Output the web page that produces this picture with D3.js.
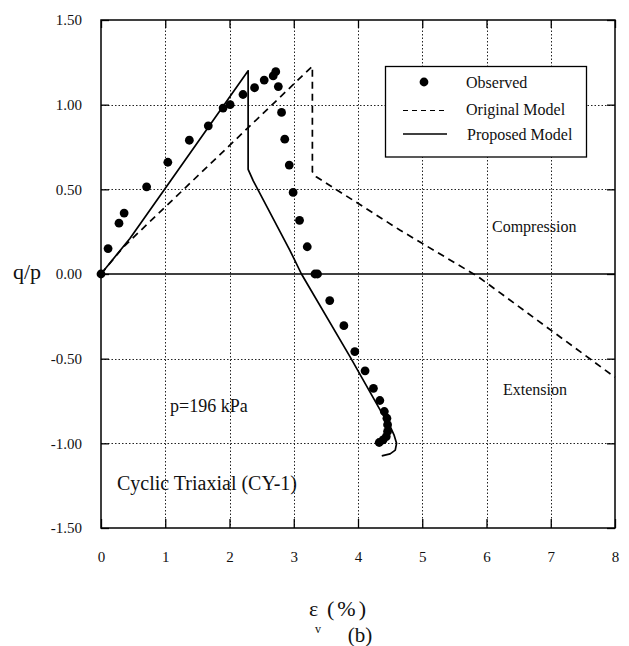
<!DOCTYPE html>
<html>
<head>
<meta charset="utf-8">
<script src="https://cdn.jsdelivr.net/npm/d3@7/dist/d3.min.js"></script>
<style>
  html, body { margin: 0; padding: 0; background: #fff; }
  svg { display: block; font-family: "Liberation Serif", "Times New Roman", serif; }
  svg text { font-family: "Liberation Serif", "Times New Roman", serif; }
</style>
</head>
<body>
<svg id="chart" width="629" height="646"></svg>
<script>
// Volumetric strain (%) vs stress ratio q/p, cyclic triaxial test CY-1
const xTicks = [0, 1, 2, 3, 4, 5, 6, 7, 8];
const yTicks = [1.5, 1.0, 0.5, 0.0, -0.5, -1.0, -1.5];

const observedX = [0.00, 0.11, 0.28, 0.36, 0.71, 1.04, 1.375, 1.67, 1.90, 2.01, 2.21, 2.39, 2.54, 2.68, 2.72,
  2.76, 2.81, 2.86, 2.93, 2.99, 3.09, 3.21, 3.33, 3.37, 3.56, 3.78, 3.95, 4.11, 4.24, 4.34, 4.41, 4.45,
  4.46, 4.46, 4.44, 4.39, 4.33];
const observedY = [0.00, 0.15, 0.30, 0.36, 0.515, 0.66, 0.79, 0.875, 0.98, 1.00, 1.06, 1.10, 1.145, 1.17, 1.195,
  1.107, 0.954, 0.796, 0.643, 0.482, 0.317, 0.161, 0.00, 0.00, -0.157, -0.305, -0.458, -0.572, -0.675, -0.747, -0.812, -0.852,
  -0.89, -0.93, -0.96, -0.98, -0.995];

const originalX = [0.00, 0.35, 3.29, 3.29, 3.35, 4.65, 5.87, 8.00];
const originalY = [0.00, 0.16, 1.227, 0.604, 0.574, 0.26, -0.016, -0.61];

const proposedX = [0.00, 0.45, 2.29, 2.29, 2.37, 2.94, 3.12, 3.875, 4.37, 4.50, 4.56, 4.60, 4.58, 4.50, 4.37];
const proposedY = [0.00, 0.21, 1.20, 0.618, 0.55, 0.14, 0.00, -0.488, -0.82, -0.90, -0.95, -1.00, -1.04, -1.062, -1.074];

const legendLabels = ["Observed", "Original Model", "Proposed Model"];

const svg = d3.select("#chart");
const plot = { left: 101, right: 615, top: 20, bottom: 528 };

const x = d3.scaleLinear().domain([0, 8]).range([plot.left, plot.right]);
const y = d3.scaleLinear().domain([-1.5, 1.5]).range([plot.bottom, plot.top]);
const crisp = v => Math.round(v) + 0.5;

// dotted grid
const grid = svg.append("g").attr("stroke", "#222").attr("stroke-width", 1).attr("stroke-dasharray", "1.5,2");
grid.selectAll("line.v").data(xTicks.filter(d => d > 0 && d < 8)).join("line")
  .attr("x1", d => crisp(x(d))).attr("x2", d => crisp(x(d))).attr("y1", plot.top).attr("y2", plot.bottom);
grid.selectAll("line.h").data(yTicks.filter(d => Math.abs(d) < 1.5 && d !== 0)).join("line")
  .attr("x1", plot.left).attr("x2", plot.right).attr("y1", d => crisp(y(d))).attr("y2", d => crisp(y(d)));

// zero line
svg.append("line").attr("x1", plot.left).attr("x2", plot.right)
  .attr("y1", y(0)).attr("y2", y(0)).attr("stroke", "#000").attr("stroke-width", 1.3);

// axes with inward ticks on all sides
const fmt = d => d.toFixed(2);
const axL = svg.append("g").attr("transform", `translate(${plot.left},0)`)
  .call(d3.axisLeft(y).tickValues(yTicks).tickFormat(fmt).tickSizeInner(-8).tickSizeOuter(0).tickPadding(19));
const axR = svg.append("g").attr("transform", `translate(${plot.right},0)`)
  .call(d3.axisRight(y).tickValues(yTicks).tickFormat("").tickSizeInner(-8).tickSizeOuter(0));
const axB = svg.append("g").attr("transform", `translate(0,${plot.bottom})`)
  .call(d3.axisBottom(x).tickValues(xTicks).tickFormat(d3.format("d")).tickSizeInner(-9).tickSizeOuter(0).tickPadding(23));
const axT = svg.append("g").attr("transform", `translate(0,${plot.top})`)
  .call(d3.axisTop(x).tickValues(xTicks).tickFormat("").tickSizeInner(-8).tickSizeOuter(0));
[axL, axR, axB, axT].forEach(a => {
  a.attr("font-family", "Liberation Serif");
  a.select(".domain").remove();
  a.selectAll(".tick line").attr("stroke", "#000").attr("stroke-width", 1.3);
  a.selectAll("text").attr("font-family", "Liberation Serif").attr("font-size", 15).attr("fill", "#111");
});

// frame
svg.append("rect").attr("x", plot.left).attr("y", plot.top)
  .attr("width", plot.right - plot.left).attr("height", plot.bottom - plot.top)
  .attr("fill", "none").attr("stroke", "#000").attr("stroke-width", 1.5);

const line = d3.line().x(d => x(d[0])).y(d => y(d[1]));

// original model (dashed)
svg.append("path").datum(d3.zip(originalX, originalY)).attr("d", line)
  .attr("fill", "none").attr("stroke", "#000").attr("stroke-width", 1.7)
  .attr("stroke-dasharray", "7,5");

// proposed model (solid)
svg.append("path").datum(d3.zip(proposedX, proposedY)).attr("d", line)
  .attr("fill", "none").attr("stroke", "#000").attr("stroke-width", 1.7).attr("stroke-linejoin", "round");

// observed points
svg.append("g").selectAll("circle").data(d3.zip(observedX, observedY)).join("circle")
  .attr("cx", d => x(d[0])).attr("cy", d => y(d[1])).attr("r", 4.4).attr("fill", "#000");

// legend
const lg = svg.append("g");
lg.append("rect").attr("x", 385.5).attr("y", 66.5).attr("width", 201).attr("height", 90.5)
  .attr("fill", "#fff").attr("stroke", "#000").attr("stroke-width", 1.3);
lg.append("circle").attr("cx", 424).attr("cy", 82).attr("r", 4.4).attr("fill", "#000");
lg.append("line").attr("x1", 403).attr("x2", 447).attr("y1", 110.5).attr("y2", 110.5)
  .attr("stroke", "#000").attr("stroke-width", 1.2).attr("stroke-dasharray", "5,4");
lg.append("line").attr("x1", 403).attr("x2", 447).attr("y1", 134).attr("y2", 134)
  .attr("stroke", "#000").attr("stroke-width", 1.4);
lg.selectAll("text").data(legendLabels).join("text")
  .attr("x", (d, i) => i === 2 ? 467 : 466).attr("y", (d, i) => [88, 115, 140][i])
  .attr("font-size", 16).attr("fill", "#111").text(d => d);

// annotations
const ann = svg.append("g").attr("fill", "#111");
ann.append("text").attr("x", 492).attr("y", 232).attr("font-size", 16).text("Compression");
ann.append("text").attr("x", 503).attr("y", 395).attr("font-size", 16).text("Extension");
ann.append("text").attr("x", 170).attr("y", 412).attr("font-size", 18).text("p=196 kPa");
ann.append("text").attr("x", 117).attr("y", 490).attr("font-size", 20).text("Cyclic Triaxial (CY-1)");

// axis titles
svg.append("text").attr("x", 13).attr("y", 279).attr("font-size", 22).attr("fill", "#111").text("q/p");
svg.append("text").attr("x", 309).attr("y", 616).attr("font-size", 22).attr("fill", "#111").text("ε");
svg.append("text").attr("x", 315).attr("y", 633).attr("font-size", 12).attr("fill", "#111").text("v");
svg.append("text").attr("x", 327).attr("y", 616).attr("font-size", 22).attr("letter-spacing", 3)
  .attr("fill", "#111").text("(%)");
svg.append("text").attr("x", 360).attr("y", 642).attr("text-anchor", "middle").attr("font-size", 21).attr("fill", "#111").text("(b)");
</script>
</body>
</html>
